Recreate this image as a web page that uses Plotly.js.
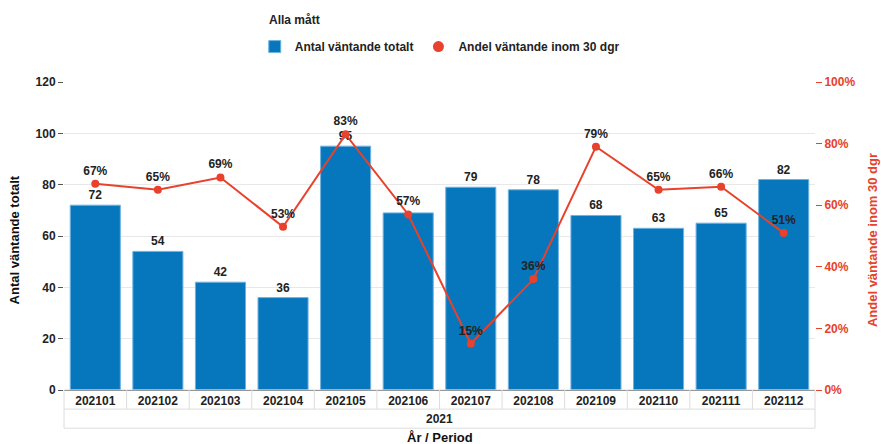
<!DOCTYPE html>
<html>
<head>
<meta charset="utf-8">
<script src="https://cdn.plot.ly/plotly-3.0.1.min.js"></script>
<style>
  body { margin: 0; background: #fff; }
  #plot { width: 881px; height: 444px; }
</style>
</head>
<body>
<div id="plot"></div>
<script>
// Data
var perioder = ['202101', '202102', '202103', '202104', '202105', '202106',
                '202107', '202108', '202109', '202110', '202111', '202112'];
var antalTotalt = [72, 54, 42, 36, 95, 69, 79, 78, 68, 63, 65, 82];
var andelInom30 = [67, 65, 69, 53, 83, 57, 15, 36, 79, 65, 66, 51];
var ar = '2021';
// bar labels that the original hides under a line label
var doldaEtiketter = ['202106'];

var blue = '#0677bc';
var red = '#e8412c';
var fontFam = 'Arial, "Liberation Sans", sans-serif';
var txt = '#222';

// Bars
var antal = {
  x: perioder,
  y: antalTotalt,
  name: 'Antal väntande totalt',
  type: 'bar',
  marker: { color: blue, line: { color: '#6fb2e0', width: 1 } },
  text: antalTotalt.map((v, i) => doldaEtiketter.includes(perioder[i]) ? '' : String(v)),
  textposition: 'outside',
  cliponaxis: false,
  textfont: { family: fontFam, size: 12, color: txt, weight: 'bold' }
};

// Line on the right axis
var andel = {
  x: perioder,
  y: andelInom30,
  name: 'Andel väntande inom 30 dgr',
  yaxis: 'y2',
  type: 'scatter',
  mode: 'lines+markers+text',
  line: { color: red, width: 2 },
  marker: { color: red, size: 8 },
  text: andelInom30.map(v => v + '%'),
  textposition: 'top center',
  textfont: { family: fontFam, size: 12, color: txt, weight: 'bold' },
  cliponaxis: false,
  showlegend: false
};

// legend entry with only the round marker
var andelLegend = {
  x: [null],
  y: [null],
  name: 'Andel väntande inom 30 dgr',
  yaxis: 'y2',
  type: 'scatter',
  mode: 'markers',
  marker: { color: red, size: 11 }
};

// Table-like cells under the category axis
var shapes = [];
var cellLine = { color: '#dcdcdc', width: 1 };
shapes.push({ type: 'rect', xref: 'paper', yref: 'paper', x0: 0, x1: 1, y0: 0, y1: -0.124, line: cellLine });
shapes.push({ type: 'line', xref: 'paper', yref: 'paper', x0: 0, x1: 1, y0: -0.062, y1: -0.062, line: cellLine });
for (var i = 0; i < perioder.length - 1; i++) {
  shapes.push({ type: 'line', xref: 'x', yref: 'paper', x0: i + 0.5, x1: i + 0.5, y0: 0, y1: -0.062, line: cellLine });
}

var layout = {
  width: 881,
  height: 444,
  margin: { l: 64, r: 66, t: 82, b: 54 },
  paper_bgcolor: '#fff',
  plot_bgcolor: '#fff',
  font: { family: fontFam, size: 12, color: txt },
  bargap: 0.2,
  showlegend: true,
  legend: {
    orientation: 'h',
    x: 0.254, xanchor: 'left',
    y: 1.162, yanchor: 'top',
    font: { size: 12, weight: 'bold', color: txt },
    tracegroupgap: 0
  },
  xaxis: {
    type: 'category',
    range: [-0.5, perioder.length - 0.5],
    automargin: false,
    showgrid: false,
    showline: true,
    linecolor: '#555',
    linewidth: 1,
    ticks: '',
    tickfont: { size: 12, weight: 'bold', color: txt }
  },
  yaxis: {
    automargin: false,
    range: [0, 120],
    dtick: 20,
    showgrid: true,
    gridcolor: '#e8e8e8',
    zeroline: false,
    ticks: 'outside',
    ticklen: 5,
    tickcolor: '#555',
    tickfont: { size: 12, weight: 'bold', color: txt }
  },
  yaxis2: {
    automargin: false,
    overlaying: 'y',
    side: 'right',
    range: [0, 100],
    dtick: 20,
    ticksuffix: '%',
    showgrid: false,
    zeroline: false,
    ticks: 'outside',
    ticklen: 6,
    tickcolor: red,
    tickfont: { size: 12, weight: 'bold', color: red }
  },
  shapes: shapes,
  annotations: [
    { text: 'Alla mått', xref: 'paper', yref: 'paper', x: 0.27, y: 1.201, xanchor: 'left', yanchor: 'middle',
      showarrow: false, font: { size: 12, weight: 'bold', color: txt } },
    { text: 'Antal väntande totalt', xref: 'paper', yref: 'paper', x: -0.066, y: 0.487, textangle: -90,
      xanchor: 'center', yanchor: 'middle',
      showarrow: false, font: { size: 13, weight: 'bold', color: '#111' } },
    { text: 'Andel väntande inom 30 dgr', xref: 'paper', yref: 'paper', x: 1.076, y: 0.487, textangle: -90,
      xanchor: 'center', yanchor: 'middle',
      showarrow: false, font: { size: 13, weight: 'bold', color: red } },
    { text: ar, xref: 'paper', yref: 'paper', x: 0.5, y: -0.093, showarrow: false,
      font: { size: 12, weight: 'bold', color: txt }, yanchor: 'middle' },
    { text: 'År / Period', xref: 'paper', yref: 'paper', x: 0.5, y: -0.153, showarrow: false,
      font: { size: 13, weight: 'bold', color: '#111' }, yanchor: 'middle' }
  ]
};

Plotly.newPlot('plot', [antal, andel, andelLegend], layout, { displayModeBar: false, staticPlot: true });
</script>
</body>
</html>
